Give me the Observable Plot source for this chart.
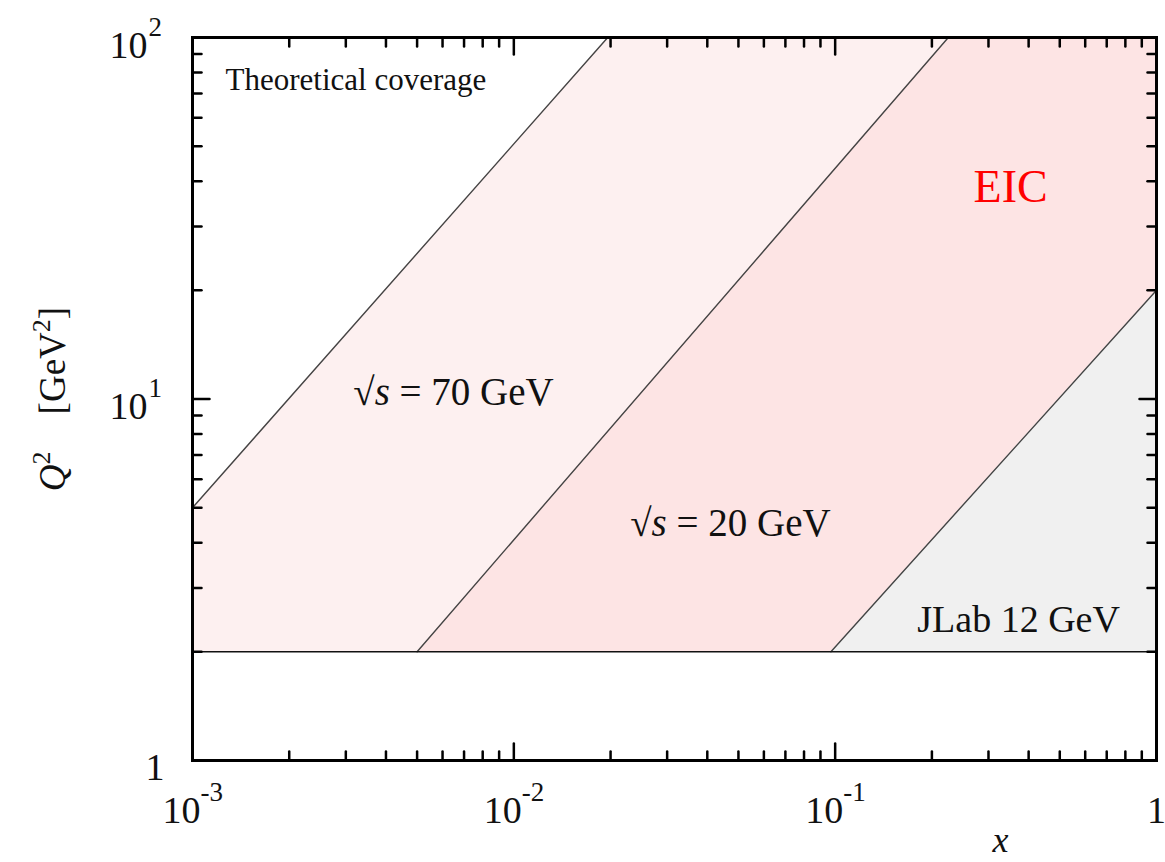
<!DOCTYPE html>
<html><head><meta charset="utf-8">
<script src="https://cdn.jsdelivr.net/npm/d3@7"></script>
<script src="https://cdn.jsdelivr.net/npm/@observablehq/plot@0.6"></script>
<style>body{margin:0;background:#fff;} svg{display:block}</style>
</head><body><div id="chart"></div>
<script>
// Boundary regions (x, Q^2 in GeV^2)
const region70X = [0.001, 0.0196, 1];
const region70Q = [5, 100, 100];
const region20X = [0.005, 0.225, 1];
const region20Q = [2, 100, 100];
const regionJLabX = [0.097, 1];
const regionJLabQ = [2, 20];
const q2Min = [2];

// Axis ticks and labels
const xMajor = [0.01, 0.1];
const xMinor = [0.002,0.003,0.004,0.005,0.006,0.007,0.008,0.009,
                0.02,0.03,0.04,0.05,0.06,0.07,0.08,0.09,
                0.2,0.3,0.4,0.5,0.6,0.7,0.8,0.9];
const yMajor = [10];
const yMinor = [2,3,4,5,6,7,8,9,20,30,40,50,60,70,80,90];
const xTickVals = [0.001, 0.01, 0.1];
const xTickExp = ["-3", "-2", "-1"];
const yTickVals = [10, 100];
const yTickExp = ["1", "2"];

const rows = (X, Q) => X.map((x, i) => ({x, q: Q[i]}));
const r70 = rows(region70X, region70Q);
const r20 = rows(region20X, region20Q);
const rJ = rows(regionJLabX, regionJLabQ);

const tickShape = {draw(ctx, l) { ctx.moveTo(0, 0); ctx.lineTo(0, -l); }};
const tk = {anchor: "start", shape: tickShape, stroke: "black", strokeWidth: 2.5};

const chart = Plot.plot({
  width: 1165, height: 862,
  marginLeft: 192, marginRight: 9, marginTop: 37, marginBottom: 102,
  style: {fontFamily: "'Liberation Serif', 'DejaVu Serif', serif", background: "#fff", color: "#111"},
  x: {type: "log", domain: [1e-3, 1], axis: null},
  y: {type: "log", domain: [1, 100], axis: null},
  marks: [
    Plot.areaY(r70, {x: "x", y1: 2, y2: "q", fill: "#fdf0f0"}),
    Plot.areaY(r20, {x: "x", y1: 2, y2: "q", fill: "#fde4e4"}),
    Plot.areaY(rJ, {x: "x", y1: 2, y2: "q", fill: "#f0f0f0"}),
    Plot.line(r70.slice(0, 2), {x: "x", y: "q", stroke: "#444", strokeWidth: 1.4}),
    Plot.line(r20.slice(0, 2), {x: "x", y: "q", stroke: "#444", strokeWidth: 1.4}),
    Plot.line(rJ, {x: "x", y: "q", stroke: "#444", strokeWidth: 1.4}),
    Plot.ruleY(q2Min, {stroke: "#111", strokeWidth: 1.6}),
    // ticks (inward, all four sides)
    Plot.vector(xMinor, {x: d => d, frameAnchor: "bottom", rotate: 0, length: 9, ...tk}),
    Plot.vector(xMajor, {x: d => d, frameAnchor: "bottom", rotate: 0, length: 17, ...tk}),
    Plot.vector(xMinor, {x: d => d, frameAnchor: "top", rotate: 180, length: 9, ...tk}),
    Plot.vector(xMajor, {x: d => d, frameAnchor: "top", rotate: 180, length: 17, ...tk}),
    Plot.vector(yMinor, {y: d => d, frameAnchor: "left", rotate: 90, length: 9, ...tk}),
    Plot.vector(yMajor, {y: d => d, frameAnchor: "left", rotate: 90, length: 17, ...tk}),
    Plot.vector(yMinor, {y: d => d, frameAnchor: "right", rotate: -90, length: 9, ...tk}),
    Plot.vector(yMajor, {y: d => d, frameAnchor: "right", rotate: -90, length: 17, ...tk}),
    Plot.frame({stroke: "black", strokeWidth: 3}),
    // x tick labels
    Plot.text(xTickVals, {x: d => d, text: () => "10", frameAnchor: "bottom", textAnchor: "end", lineAnchor: "bottom", dx: 8, dy: 62, fontSize: 38, fill: "#111"}),
    Plot.text(xTickVals, {x: d => d, text: (d, i) => xTickExp[i], frameAnchor: "bottom", textAnchor: "start", lineAnchor: "bottom", dx: 8, dy: 40, fontSize: 27, fill: "#111"}),
    Plot.text([1], {x: d => d, text: () => "1", frameAnchor: "bottom", textAnchor: "middle", lineAnchor: "bottom", dx: 0, dy: 62, fontSize: 38, fill: "#111"}),
    // y tick labels
    Plot.text(yTickVals, {y: d => d, text: () => "10", frameAnchor: "left", textAnchor: "end", lineAnchor: "bottom", dx: -45, dy: 20, fontSize: 38, fill: "#111"}),
    Plot.text(yTickVals, {y: d => d, text: (d, i) => yTickExp[i], frameAnchor: "left", textAnchor: "start", lineAnchor: "bottom", dx: -44, dy: -2, fontSize: 27, fill: "#111"}),
    Plot.text([1], {y: d => d, text: () => "1", frameAnchor: "left", textAnchor: "end", lineAnchor: "bottom", dx: -28, dy: 19, fontSize: 38, fill: "#111"}),
    // axis titles
    Plot.text(["x"], {x: 0.327, text: d => d, frameAnchor: "bottom", textAnchor: "middle", lineAnchor: "bottom", dy: 91, fontSize: 36, fontStyle: "italic", fill: "#111"}),
    Plot.text(["Q2\u2003[GeV2]"], {y: 10, text: d => d, frameAnchor: "left", rotate: -90, textAnchor: "middle", lineAnchor: "bottom", dx: -128, fontSize: 37, fill: "#111"}),
    // annotations
    Plot.text(["Theoretical coverage"], {text: d => d, frameAnchor: "top-left", textAnchor: "start", lineAnchor: "bottom", dx: 33, dy: 52, fontSize: 31, fill: "#111"}),
    Plot.text(["√s = 70 GeV"], {x: 0.00649, y: 9.6, text: d => d, textAnchor: "middle", lineAnchor: "bottom", fontSize: 39, fill: "#111"}),
    Plot.text(["√s = 20 GeV"], {x: 0.0472, y: 4.19, text: d => d, textAnchor: "middle", lineAnchor: "bottom", fontSize: 39, fill: "#111"}),
    Plot.text(["EIC"], {x: 0.3515, y: 35, text: d => d, textAnchor: "middle", lineAnchor: "bottom", fontSize: 46, fill: "#ff0000"}),
    Plot.text(["JLab 12 GeV"], {x: 0.3723, y: 2.26, text: d => d, textAnchor: "middle", lineAnchor: "bottom", fontSize: 38, fill: "#111"})
  ]
});
document.getElementById("chart").appendChild(chart);

// italic variables and superscripts inside labels
const NS = "http://www.w3.org/2000/svg";
chart.querySelectorAll("text").forEach(t => {
  const s = t.textContent;
  let parts = null;
  if (s.startsWith("√s")) parts = [["√", 0], ["s", 1], [s.slice(2), 0]];
  else if (s.startsWith("Q2")) parts = [["Q", 1], ["2", 2], ["\u2003[GeV", 3], ["2", 2], ["]", 3]];
  if (parts) {
    t.textContent = "";
    for (const [str, kind] of parts) {
      const sp = document.createElementNS(NS, "tspan");
      sp.textContent = str;
      if (kind === 1) sp.setAttribute("font-style", "italic");
      if (kind === 2) { sp.setAttribute("font-size", "26"); sp.setAttribute("dy", "-15"); }
      if (kind === 3) sp.setAttribute("dy", "15");
      t.appendChild(sp);
    }
  }
});
</script>
</body></html>
